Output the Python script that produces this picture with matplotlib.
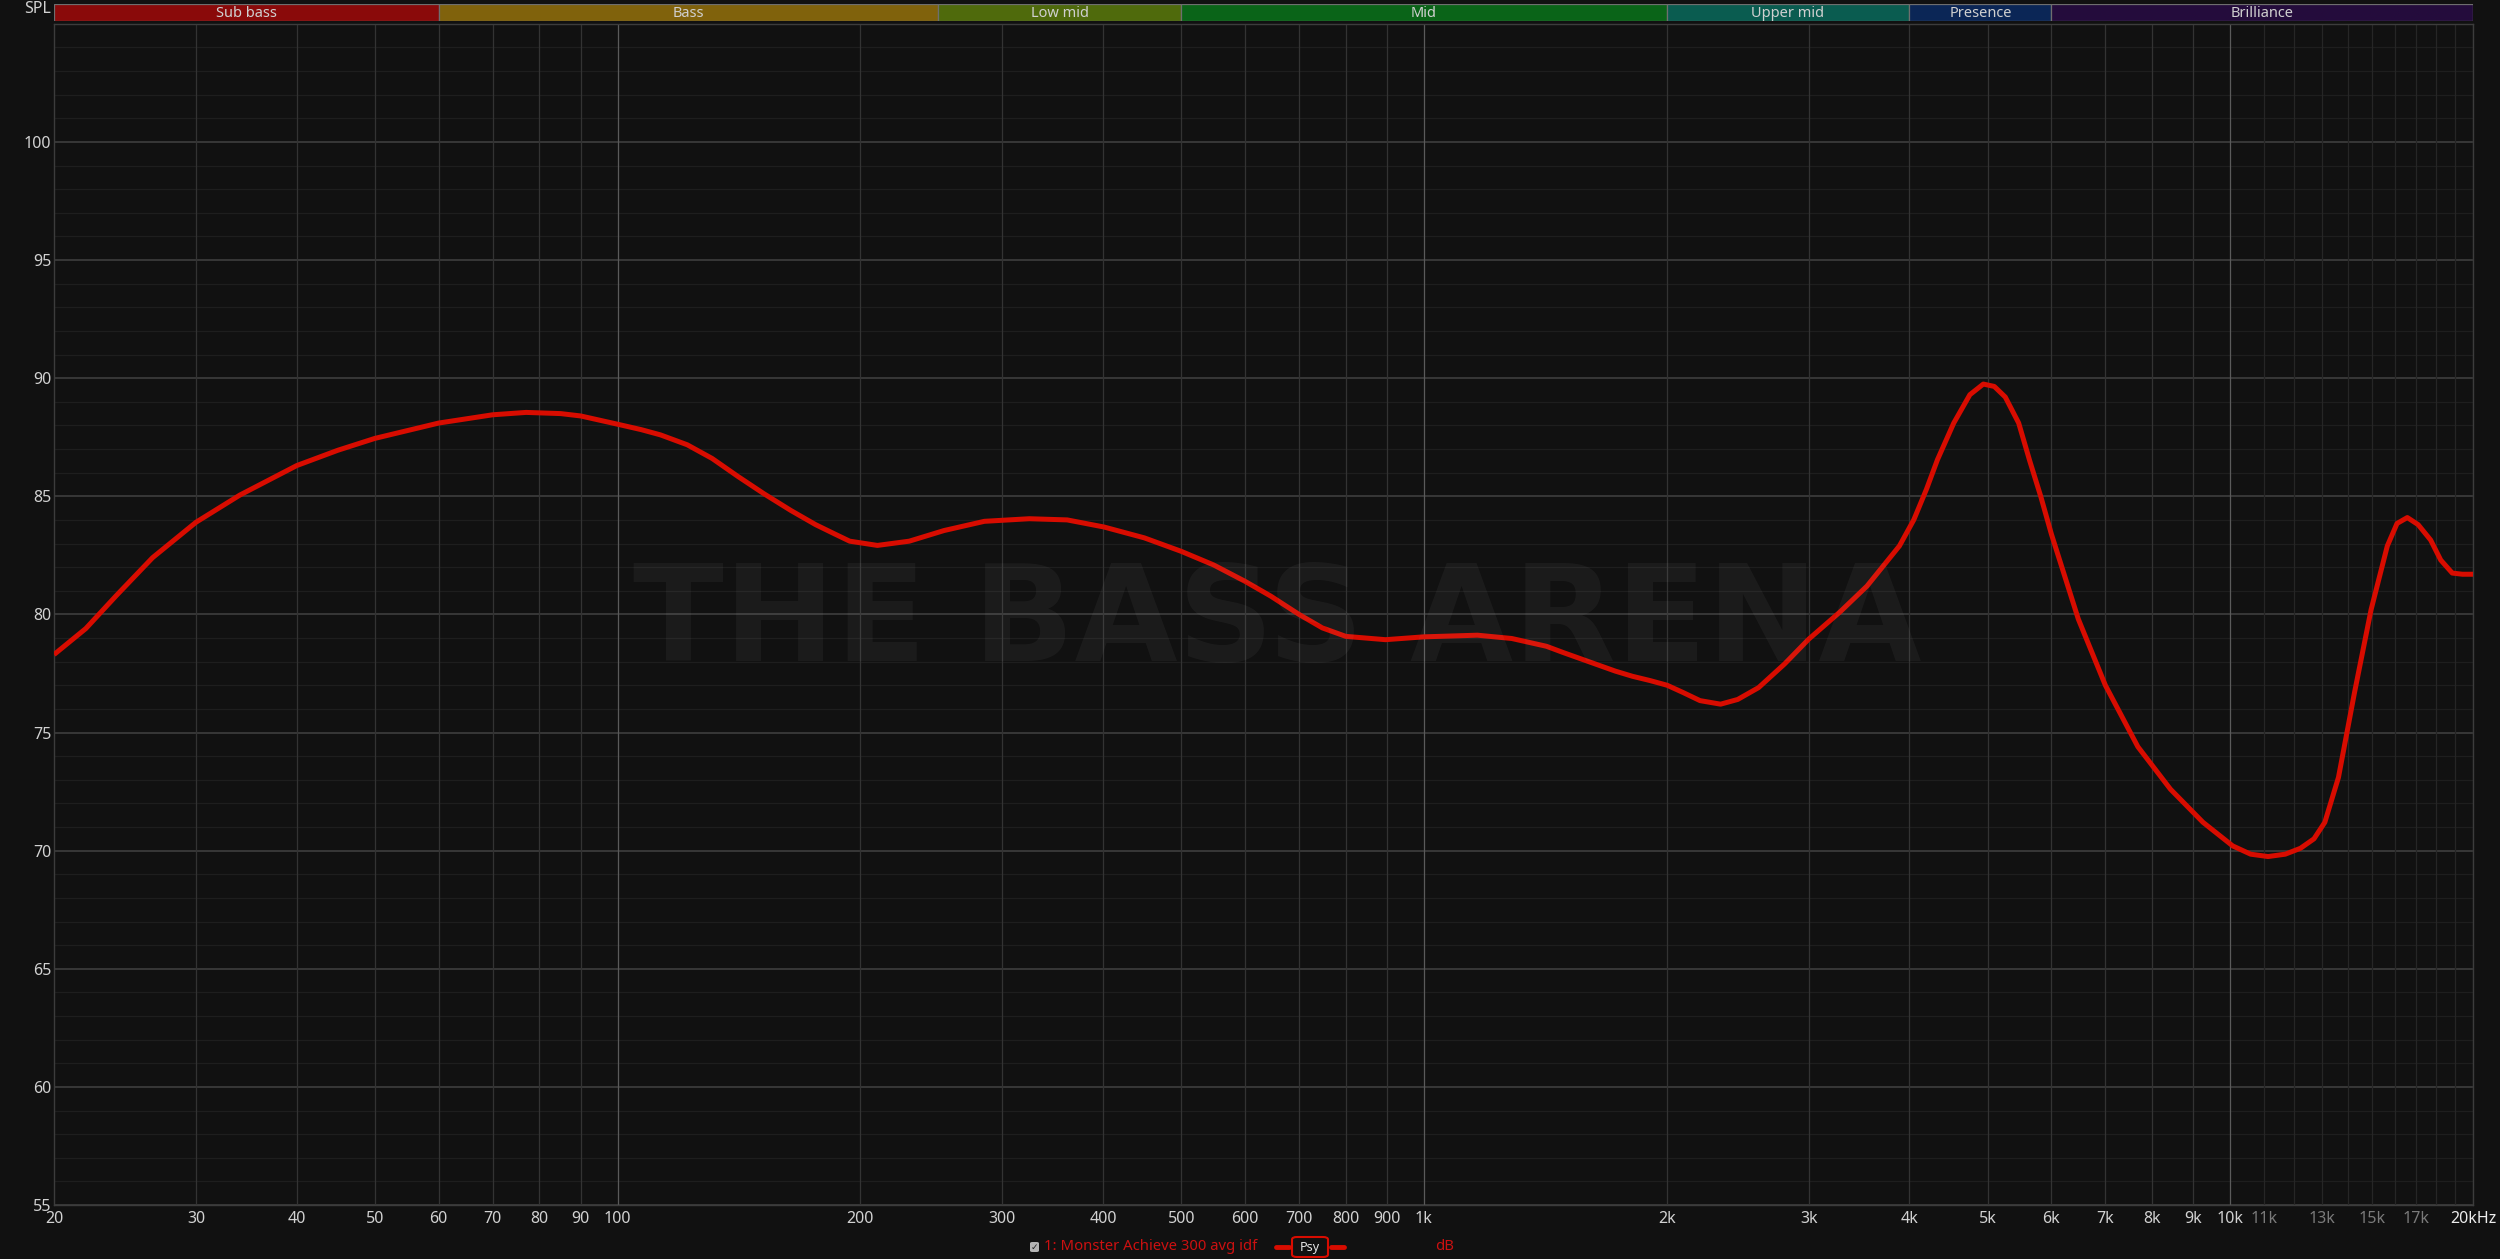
import numpy as np
import matplotlib.pyplot as plt
from matplotlib.patches import FancyBboxPatch, Rectangle
from matplotlib.lines import Line2D
from matplotlib.ticker import NullLocator, NullFormatter

plt.rcParams['font.family'] = ['Noto Sans', 'DejaVu Sans']

# frequency response (Hz, dB SPL)
freq = [20, 21.9, 23.9, 26.5, 30, 34, 40, 45, 50, 60, 70, 77, 85, 90, 100,
        107, 113, 122, 131, 141, 152, 164, 176, 186, 194, 210, 230, 254, 285,
        324, 361, 401, 450, 500, 548, 600, 646, 700, 748, 800, 896, 1000, 1165,
        1285, 1419, 1490, 1727, 1814, 1907, 2003, 2094, 2200, 2333, 2450, 2600,
        2800, 3000, 3280, 3544, 3888, 4050, 4200, 4334, 4540, 4754, 4940, 5097,
        5260, 5465, 5640, 5820, 6000, 6480, 7000, 7680, 8430, 9250, 10070, 10600,
        11140, 11700, 12220, 12700, 13100, 13620, 14260, 14950, 15660, 16100,
        16580, 17100, 17720, 18240, 18850, 19400, 20000]
spl = [78.3, 79.4, 80.8, 82.4, 83.9, 85.05, 86.3, 86.95, 87.45, 88.1, 88.45,
       88.55, 88.5, 88.4, 88.05, 87.82, 87.6, 87.18, 86.6, 85.84, 85.1, 84.4,
       83.8, 83.4, 83.1, 82.92, 83.1, 83.55, 83.94, 84.05, 84.0, 83.7, 83.24,
       82.67, 82.1, 81.4, 80.77, 80.0, 79.43, 79.07, 78.93, 79.05, 79.12, 78.98,
       78.65, 78.38, 77.6, 77.38, 77.2, 77.0, 76.7, 76.35, 76.2, 76.4, 76.9,
       77.9, 78.95, 80.1, 81.2, 82.9, 84.0, 85.3, 86.55, 88.1, 89.3, 89.75,
       89.65, 89.2, 88.1, 86.5, 85.0, 83.4, 79.8, 77.0, 74.4, 72.6, 71.2, 70.2,
       69.85, 69.75, 69.85, 70.1, 70.5, 71.2, 73.1, 76.7, 80.2, 82.9, 83.85,
       84.1, 83.8, 83.15, 82.3, 81.75, 81.7, 81.7]

bands = ['Sub bass', 'Bass', 'Low mid', 'Mid', 'Upper mid', 'Presence', 'Brilliance']
band_edges = [20, 60, 250, 500, 2000, 4000, 6000, 20000]
band_colors = ['#8a0a0a', '#80620c', '#4f6a0c', '#0a6418', '#0a5c50', '#0b2656', '#240c3c']

x_ticks = [20, 30, 40, 50, 60, 70, 80, 90, 100, 200, 300, 400, 500, 600, 700,
           800, 900, 1000, 2000, 3000, 4000, 5000, 6000, 7000, 8000, 9000,
           10000, 11000, 13000, 15000, 17000, 20000]
x_labels = ['20', '30', '40', '50', '60', '70', '80', '90', '100', '200', '300',
            '400', '500', '600', '700', '800', '900', '1k', '2k', '3k', '4k',
            '5k', '6k', '7k', '8k', '9k', '10k', '11k', '13k', '15k', '17k', '20kHz']
faint_labels = ['11k', '13k', '15k', '17k']
y_ticks = [55, 60, 65, 70, 75, 80, 85, 90, 95, 100]

legend_name = '1: Monster Achieve 300 avg idf'

W, H = 2500, 1259
bg = '#111111'
red = '#d80c00'


def fx(x):
    return x / W


def fy(y):
    return 1 - y / H


fig = plt.figure(figsize=(W / 100, H / 100), dpi=100, facecolor=bg)
left, right = fx(54), fx(2473)
bottom, top = fy(1205), fy(23.8)
ax = fig.add_axes([left, bottom, right - left, top - bottom])
ax.set_facecolor(bg)
ax.set_xscale('log')
ax.set_xlim(20, 20000)
ax.set_ylim(55, 105)

# grid
for d in range(55, 106):
    if d % 5 == 0:
        ax.axhline(d, color='#3a3a3a', lw=1.3, zorder=1)
    else:
        ax.axhline(d, color='#1e1e1e', lw=0.9, zorder=0.8)
for dec in [10, 100, 1000, 10000]:
    for m in range(1, 10):
        f = m * dec
        if f <= 20 or f > 20000:
            continue
        if m == 1 and dec >= 100:
            c = '#5a5a5a'
        elif dec == 10000:
            c = '#262626'
        else:
            c = '#333333'
        ax.axvline(f, color=c, lw=0.9, zorder=1)
for f in range(11000, 20000, 1000):
    ax.axvline(f, color='#262626', lw=0.9, zorder=1)

ax.plot(freq, spl, color=red, lw=3.6, solid_joinstyle='round',
        solid_capstyle='butt', zorder=3)

for s in ax.spines.values():
    s.set_color('#3c3c3c')
    s.set_linewidth(1)

ax.set_xticks(x_ticks, x_labels)
ax.xaxis.set_minor_locator(NullLocator())
ax.xaxis.set_minor_formatter(NullFormatter())
ax.set_yticks(y_ticks, [str(v) for v in y_ticks])
ax.tick_params(axis='both', length=0, labelsize=11.5, labelcolor='#d2d2d2')
ax.tick_params(axis='x', pad=4)
ax.tick_params(axis='y', pad=2)
for t in ax.get_xticklabels():
    if t.get_text() in faint_labels:
        t.set_color('#7a7a7a')
    if t.get_text() == '20kHz':
        t.set_color('#ececec')

# watermark
wm = ax.text(fx(1277), fy(661), 'THE BASS ARENA', transform=fig.transFigure,
             ha='center', va='baseline', fontsize=150, fontweight='bold',
             family=['Liberation Sans Narrow', 'DejaVu Sans'],
             color='white', alpha=0.045, zorder=5)
fig.canvas.draw()
bb = wm.get_window_extent()
wm.set_fontsize(150 * 1288 / bb.width)

# band bar
axb = fig.add_axes([left, fy(21), right - left, fy(4) - fy(21)])
axb.set_xscale('log')
axb.set_xlim(20, 20000)
axb.set_ylim(0, 1)
axb.axis('off')
for name, c, a, b in zip(bands, band_colors, band_edges[:-1], band_edges[1:]):
    axb.add_patch(Rectangle((a, 0), b - a, 1, facecolor=c, edgecolor='#6e6e6e',
                            lw=0.9))
    axb.text(np.sqrt(a * b), 0.45, name, ha='center', va='center',
             fontsize=10.5, color='#d0d0d0')

fig.text(fx(51), fy(9), 'SPL', ha='right', va='center', fontsize=11.5,
         color='#d2d2d2')

# legend row
ly = fy(1247)
fig.patches.append(FancyBboxPatch((fx(1030), fy(1252)), fx(9), fy(1242) - fy(1252),
                                  boxstyle='round,pad=0,rounding_size=0.001',
                                  facecolor='#b4b4b4', edgecolor='none',
                                  transform=fig.transFigure, figure=fig))
fig.text(fx(1034.5), ly, '\u2713', ha='center', va='center', fontsize=6.5,
         color='#222222', family=['DejaVu Sans'])
fig.text(fx(1044), ly, legend_name, ha='left', va='center', fontsize=10.7,
         color='#cc1010')
for a, b in [(1276, 1289), (1331, 1344)]:
    fig.add_artist(Line2D([fx(a), fx(b)], [ly, ly], color=red, lw=3.5,
                          solid_capstyle='round', transform=fig.transFigure))
fig.patches.append(FancyBboxPatch((fx(1292), fy(1257)), fx(36), fy(1237) - fy(1257),
                                  boxstyle='round,pad=0,rounding_size=0.002',
                                  facecolor=bg, edgecolor=red, lw=1.5,
                                  transform=fig.transFigure, figure=fig))
fig.text(fx(1310), ly, 'Psy', ha='center', va='center', fontsize=9,
         color='#e6e6e6')
fig.text(fx(1435), ly, 'dB', ha='left', va='center', fontsize=10.7,
         color='#cc1010')

fig.savefig('out.png', dpi=100, facecolor=bg)
